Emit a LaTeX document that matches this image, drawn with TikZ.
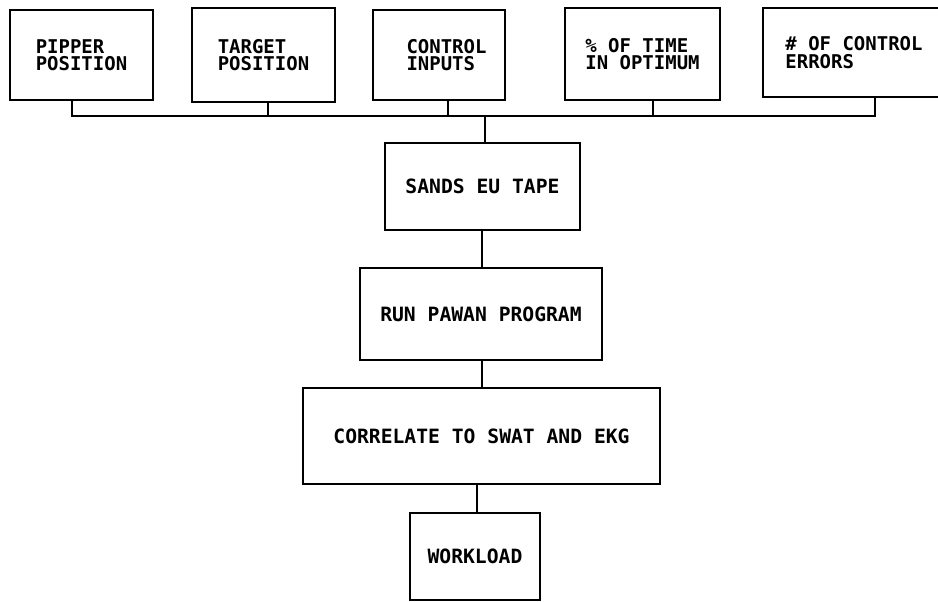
\documentclass[tikz,border=0pt]{standalone}
\usepackage{fontspec}
\newfontfamily\lettering{DejaVu Sans Mono Bold}
\begin{document}
\begin{tikzpicture}[x=0.02cm, y=-0.02cm,
  box/.style 2 args={draw, line width=1.4pt, inner sep=0pt, outer sep=0pt,
    minimum width=#1*0.02cm, minimum height=#2*0.02cm, align=left},
  toptext/.style={font=\lettering\fontsize{10.8}{9.8}\selectfont},
  midtext/.style={font=\lettering\fontsize{11.2}{12}\selectfont},
  link/.style={line width=1.4pt}]
\useasboundingbox (0,0) rectangle (938,602);
\clip (0,0) rectangle (938,602);

% measured quantities feeding the tape
\node[box={143}{90}, toptext] (pip) at (81.5,55) {PIPPER\\POSITION};
\node[box={143}{94}, toptext] (tgt) at (263.5,55) {TARGET\\POSITION};
\node[box={132}{90}, toptext] (ctl) at (439,55) {\hspace*{0.3cm}CONTROL\\\hspace*{0.3cm}INPUTS};
\node[box={155}{92}, toptext] (opt) at (642.5,54) {\% OF TIME\\IN OPTIMUM};
\node[box={182}{89}, toptext] (err) at (854,52.5) {\# OF CONTROL\\ERRORS};

% processing chain
\node[box={195}{87}, midtext] (tape) at (482.5,186.5) {SANDS EU TAPE};
\node[box={242}{92}, midtext] (run) at (481,314) {RUN PAWAN PROGRAM};
\node[box={357}{96}, midtext] (corr) at (481.5,436) {CORRELATE TO SWAT AND EKG};
\node[box={130}{87}, midtext] (work) at (475,556.5) {WORKLOAD};

% collecting bus under the top row
\coordinate (j1) at (72,116);
\coordinate (j2) at (268,116);
\coordinate (j3) at (448,116);
\coordinate (j4) at (653,116);
\coordinate (j5) at (875,116);
\coordinate (jm) at (485,116);

\draw[link] (j1 |- pip.south) -- (j1) -- (j5) -- (j5 |- err.south);
\draw[link] (j2 |- tgt.south) -- (j2);
\draw[link] (j3 |- ctl.south) -- (j3);
\draw[link] (j4 |- opt.south) -- (j4);
\draw[link] (jm) -- (jm |- tape.north);

% vertical links down the chain
\draw[link] ([xshift=-0.5*0.02cm]tape.south) -- ([xshift=-0.5*0.02cm]tape.south |- run.north);
\draw[link] ([xshift=1*0.02cm]run.south) -- ([xshift=1*0.02cm]run.south |- corr.north);
\draw[link] ([xshift=2*0.02cm]work.north |- corr.south) -- ([xshift=2*0.02cm]work.north);
\end{tikzpicture}
\end{document}
